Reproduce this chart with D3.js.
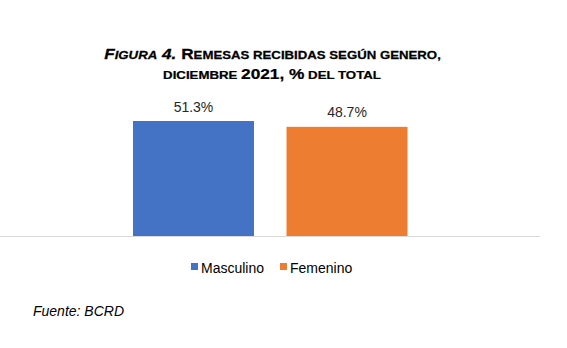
<!DOCTYPE html>
<html><head><meta charset="utf-8">
<script src="https://cdn.jsdelivr.net/npm/d3@7"></script>
<style>body{margin:0;background:#fff}svg{display:block}text{font-family:"Liberation Sans",Arial,sans-serif}</style>
</head><body><svg id="c" width="567" height="348"></svg>
<script>
const categories = ["Masculino", "Femenino"];
const values = [51.3, 48.7];
const colors = ["#4472C4", "#ED7D31"];
const valueLabels = ["51.3%", "48.7%"];

const svg = d3.select("#c");
const x = d3.scaleBand().domain(categories).range([133, 407.5]).paddingInner(0.212).paddingOuter(0);
const y = d3.scaleLinear().domain([0, 60]).range([236, 101.5]);

// axis line
svg.append("line").attr("x1", 0).attr("x2", 540).attr("y1", y(0)+0.5).attr("y2", y(0)+0.5)
  .attr("stroke", "#d9d9d9").attr("stroke-width", 1);

svg.selectAll("rect.bar").data(categories).join("rect").attr("class","bar")
  .attr("x", d => x(d)).attr("width", x.bandwidth())
  .attr("y", (d,i) => y(values[i])).attr("height", (d,i) => y(0) - y(values[i]))
  .attr("fill", (d,i) => colors[i]);

svg.selectAll("text.lbl").data(categories).join("text").attr("class","lbl")
  .attr("x", d => x(d) + x.bandwidth()/2).attr("y", (d,i) => y(values[i]) - 9.5)
  .attr("text-anchor","middle").attr("font-size", 14).attr("fill","#262626")
  .text((d,i) => valueLabels[i]);

// title
function stretch(sel, cx, target) {
  const w = sel.node().getBBox().width;
  const k = target / w;
  sel.attr("transform", `translate(${cx},0) scale(${k},1) translate(${-cx},0)`);
}
const big = 15, small = 11.5;
const t1 = svg.append("text").attr("x", 272.5).attr("y", 59).attr("text-anchor","middle").attr("font-weight","bold")
  .attr("fill","#000").attr("stroke","#000").attr("stroke-width",0.25);
t1.append("tspan").attr("font-style","italic").attr("font-size",big).text("F");
t1.append("tspan").attr("font-style","italic").attr("font-size",small).text("IGURA");
t1.append("tspan").attr("font-style","italic").attr("font-size",big).text(" 4.");
t1.append("tspan").attr("font-size",big).text(" R");
t1.append("tspan").attr("font-size",small).text("EMESAS RECIBIDAS SEGÚN GENERO,");
stretch(t1, 272.5, 337);
const t2 = svg.append("text").attr("x", 272).attr("y", 79).attr("text-anchor","middle").attr("font-weight","bold")
  .attr("fill","#000").attr("stroke","#000").attr("stroke-width",0.25);
t2.append("tspan").attr("font-size",small).text("DICIEMBRE ");
t2.append("tspan").attr("font-size",big).text("2021, %");
t2.append("tspan").attr("font-size",small).text("  DEL TOTAL");
stretch(t2, 272, 218);

// legend
const legendX = [191, 280];
const lg = svg.selectAll("g.lg").data(categories).join("g").attr("class","lg")
  .attr("transform", (d,i) => `translate(${legendX[i]},263)`);
lg.append("rect").attr("x",0).attr("y",0).attr("width",7).attr("height",7).attr("fill",(d,i)=>colors[i]);
lg.append("text").attr("x",10).attr("y",9.7).attr("font-size",14).attr("fill","#000").text(d=>d);

svg.append("text").attr("x",33).attr("y",316).attr("font-size",14).attr("font-style","italic").attr("fill","#000").text("Fuente: BCRD");
</script></body></html>
